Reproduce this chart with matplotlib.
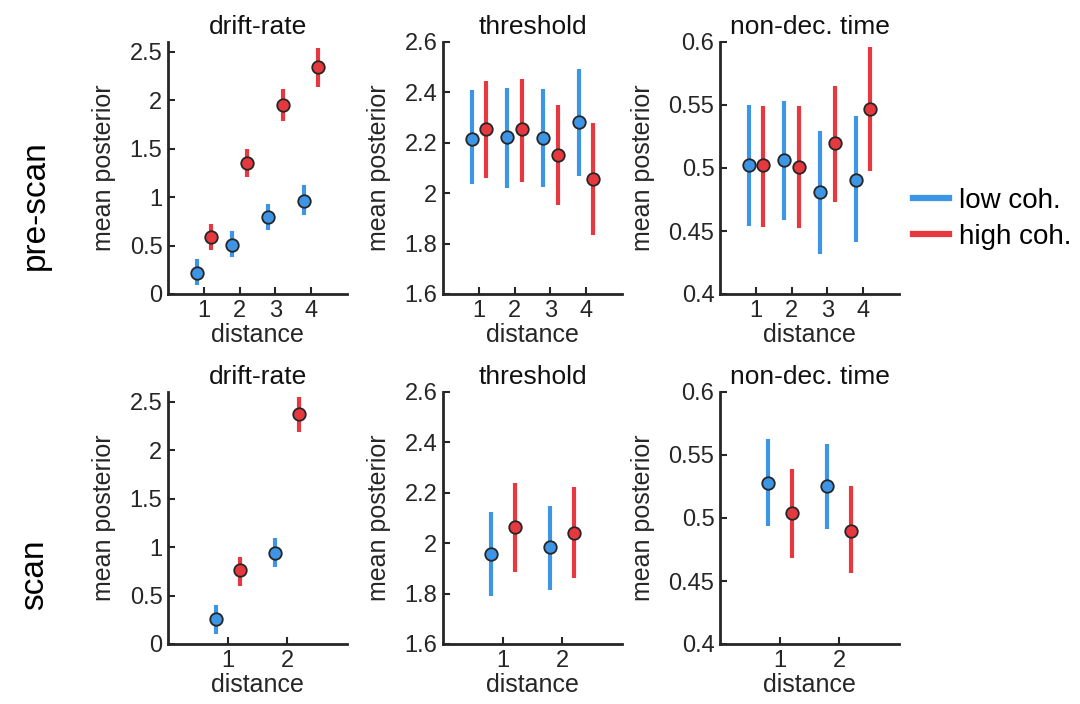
import matplotlib
matplotlib.use('Agg')
import matplotlib.pyplot as plt
from matplotlib.lines import Line2D
from matplotlib.ticker import FormatStrFormatter
import numpy as np

plt.rcParams['font.family'] = ['Liberation Sans', 'DejaVu Sans']

# ---- data: mean, lower, upper per distance ----
# pre-scan (distances 1-4)
pre_drift_low = [0.22, 0.51, 0.79, 0.96]
pre_drift_low_lo = [0.09, 0.38, 0.66, 0.81]
pre_drift_low_hi = [0.36, 0.65, 0.93, 1.12]
pre_drift_high = [0.59, 1.35, 1.95, 2.34]
pre_drift_high_lo = [0.45, 1.21, 1.79, 2.14]
pre_drift_high_hi = [0.72, 1.50, 2.11, 2.54]

pre_thr_low = [2.217, 2.224, 2.220, 2.282]
pre_thr_low_lo = [2.035, 2.022, 2.026, 2.070]
pre_thr_low_hi = [2.409, 2.418, 2.413, 2.492]
pre_thr_high = [2.254, 2.253, 2.151, 2.055]
pre_thr_high_lo = [2.059, 2.046, 1.954, 1.835]
pre_thr_high_hi = [2.446, 2.454, 2.349, 2.279]

pre_ndt_low = [0.502, 0.506, 0.481, 0.4905]
pre_ndt_low_lo = [0.454, 0.459, 0.432, 0.441]
pre_ndt_low_hi = [0.550, 0.553, 0.529, 0.541]
pre_ndt_high = [0.502, 0.5005, 0.5195, 0.5465]
pre_ndt_high_lo = [0.453, 0.452, 0.473, 0.498]
pre_ndt_high_hi = [0.549, 0.549, 0.565, 0.596]

# scan (distances 1-2)
scan_drift_low = [0.26, 0.94]
scan_drift_low_lo = [0.10, 0.79]
scan_drift_low_hi = [0.40, 1.09]
scan_drift_high = [0.76, 2.37]
scan_drift_high_lo = [0.60, 2.19]
scan_drift_high_hi = [0.90, 2.545]

scan_thr_low = [1.957, 1.983]
scan_thr_low_lo = [1.789, 1.815]
scan_thr_low_hi = [2.124, 2.148]
scan_thr_high = [2.064, 2.041]
scan_thr_high_lo = [1.884, 1.860]
scan_thr_high_hi = [2.237, 2.224]

scan_ndt_low = [0.528, 0.525]
scan_ndt_low_lo = [0.494, 0.491]
scan_ndt_low_hi = [0.563, 0.559]
scan_ndt_high = [0.5036, 0.490]
scan_ndt_high_lo = [0.468, 0.456]
scan_ndt_high_hi = [0.539, 0.525]

titles = ['drift-rate', 'threshold', 'non-dec. time']
ylims = [(0, 2.6), (1.6, 2.6), (0.4, 0.6)]
yticks = [[0, 0.5, 1, 1.5, 2, 2.5],
          [1.6, 1.8, 2, 2.2, 2.4, 2.6],
          [0.4, 0.45, 0.5, 0.55, 0.6]]
row_labels = ['pre-scan', 'scan']
legend_labels = ['low coh.', 'high coh.']

blue = '#3D95E6'
red = '#E6383F'
dark = '#262626'

rows = [
    [(pre_drift_low, pre_drift_low_lo, pre_drift_low_hi, pre_drift_high, pre_drift_high_lo, pre_drift_high_hi),
     (pre_thr_low, pre_thr_low_lo, pre_thr_low_hi, pre_thr_high, pre_thr_high_lo, pre_thr_high_hi),
     (pre_ndt_low, pre_ndt_low_lo, pre_ndt_low_hi, pre_ndt_high, pre_ndt_high_lo, pre_ndt_high_hi)],
    [(scan_drift_low, scan_drift_low_lo, scan_drift_low_hi, scan_drift_high, scan_drift_high_lo, scan_drift_high_hi),
     (scan_thr_low, scan_thr_low_lo, scan_thr_low_hi, scan_thr_high, scan_thr_high_lo, scan_thr_high_hi),
     (scan_ndt_low, scan_ndt_low_lo, scan_ndt_low_hi, scan_ndt_high, scan_ndt_high_lo, scan_ndt_high_hi)],
]

W, H = 1080, 704
fig = plt.figure(figsize=(W / 100, H / 100), dpi=100)

col_left = [168, 443, 720]
row_top = [42, 392]
ax_w, ax_h = 179, 252

def px_axes(left, top, w, h):
    return fig.add_axes([left / W, 1 - (top + h) / H, w / W, h / H])

for r in range(2):
    for c in range(3):
        ax = px_axes(col_left[c], row_top[r], ax_w, ax_h)
        lo_m, lo_l, lo_h, hi_m, hi_l, hi_h = rows[r][c]
        n = len(lo_m)
        x = np.arange(1, n + 1)
        for xs, m, l, h, col in [(x - 0.2, lo_m, lo_l, lo_h, blue),
                                 (x + 0.2, hi_m, hi_l, hi_h, red)]:
            m = np.array(m)
            yerr = [m - np.array(l), np.array(h) - m]
            ax.errorbar(xs, m, yerr=yerr, fmt='none', ecolor=col, elinewidth=3, capsize=0, zorder=2)
            ax.plot(xs, m, 'o', color=col, markersize=9, markeredgecolor=dark, markeredgewidth=1.3, zorder=3)
        ax.set_xlim(0, n + 1)
        ax.set_ylim(*ylims[c])
        ax.set_xticks(x)
        ax.set_yticks(yticks[c])
        ax.yaxis.set_major_formatter(FormatStrFormatter('%g'))
        for s in ['top', 'right']:
            ax.spines[s].set_visible(False)
        for s in ['left', 'bottom']:
            ax.spines[s].set_linewidth(2)
            ax.spines[s].set_color(dark)
        ax.tick_params(direction='in', length=5, width=1.5, colors=dark, labelsize=17, pad=4)
        ax.set_title(titles[c], fontsize=19, color='#111111', pad=6)
        ax.set_xlabel('distance', fontsize=18, color=dark, labelpad=1)
        ax.set_ylabel('mean posterior', fontsize=18, color=dark, labelpad=10)

fig.text(35 / W, 1 - 205 / H, row_labels[0], rotation=90, fontsize=24, ha='center', va='center')
fig.text(35 / W, 1 - 575 / H, row_labels[1], rotation=90, fontsize=24, ha='center', va='center')

handles = [Line2D([], [], color=blue, linewidth=4.5), Line2D([], [], color=red, linewidth=4.5)]
fig.legend(handles, legend_labels, loc='center left', bbox_to_anchor=(913 / W, 1 - 219 / H),
           frameon=False, fontsize=20, handlelength=1.3, handletextpad=0.35, labelspacing=0.35,
           borderpad=0, borderaxespad=0)

fig.savefig('out.png', dpi=100)
